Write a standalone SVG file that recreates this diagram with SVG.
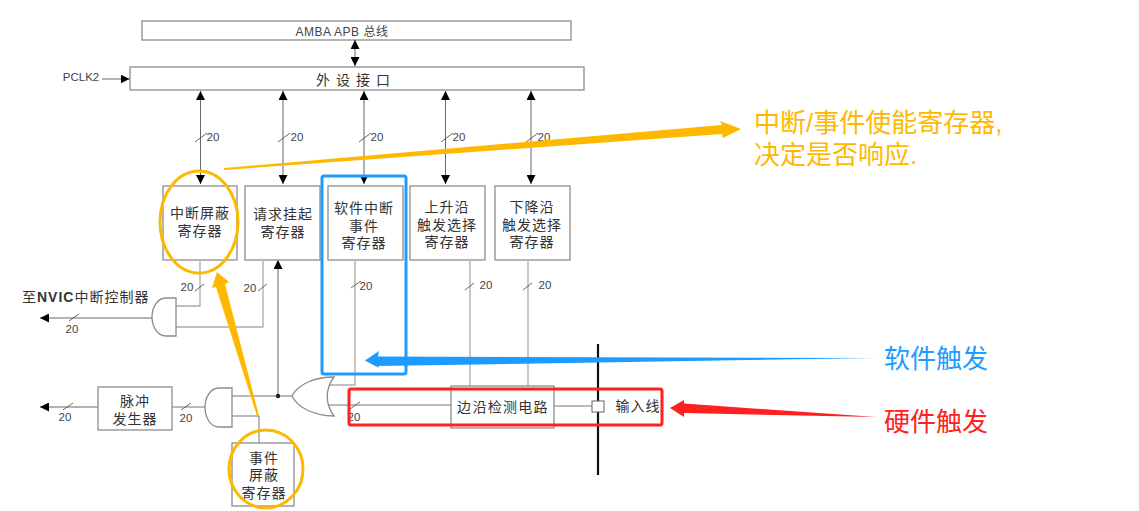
<svg xmlns="http://www.w3.org/2000/svg" width="1139" height="511" viewBox="0 0 1139 511">
<defs>
<marker id="ah" viewBox="0 0 9 9" refX="9" refY="4.5" markerWidth="9" markerHeight="9" orient="auto-start-reverse" markerUnits="userSpaceOnUse"><path d="M0 0L9 4.5L0 9Z" fill="#000"/></marker>
</defs>
<style>
.b{fill:#fff;stroke:#8c8c8c;stroke-width:1.3}
.w{fill:none;stroke:#aaa;stroke-width:1.3}
.d{fill:none;stroke:#777;stroke-width:1}
.a{fill:none;stroke:#666;stroke-width:1;marker-start:url(#ah);marker-end:url(#ah)}
.e{fill:none;stroke:#666;stroke-width:1;marker-end:url(#ah)}
.s{fill:none;stroke:#555;stroke-width:.9}
.t{font-family:"Liberation Sans","Noto Sans CJK SC",sans-serif;font-size:14px;letter-spacing:1px;fill:#333;text-anchor:middle}
.n{font-family:"Liberation Sans","Noto Sans CJK SC",sans-serif;font-size:11.5px;fill:#444;text-anchor:middle}
.o{fill:none;stroke:#ffb800;stroke-width:3}
.c{font-family:"Liberation Sans","Noto Sans CJK SC",sans-serif;font-size:26px}
</style>
<g id="bus"><rect class="b" x="142" y="21" width="429" height="19"/><text class="n" x="342" y="36" style="font-size:12px;letter-spacing:.5px">AMBA APB 总线</text></g>
<g id="periph"><rect class="b" x="130" y="67" width="454" height="23"/><text class="t" x="356" y="85" style="letter-spacing:6px">外设接口</text></g>
<g id="pclk"><text class="n" x="81" y="81">PCLK2</text></g>
<g id="connectors">
<path class="a" d="M355 40V66"/>
<path class="e" d="M102 79H129.5"/>
<path class="a" d="M200.500 91V184"/><path class="a" d="M283 91V184"/><path class="a" d="M364 91V184"/><path class="a" d="M445.500 91V184"/><path class="a" d="M531 91V184"/>
<path class="s" d="M195 142l12-9M278 142l12-9M359 142l12-9M441 142l12-9M526 142l12-9"/>
<path class="w" d="M200 261V306H176M263 261V327H176M355 261V385H328M470 261V386M528 261V386"/>
<path class="s" d="M195 291l9-7M258 291l9-7M351 288l10-7M465 290l9-7M523 290l9-7"/>
<path class="e" d="M152 318H40"/>
<path class="s" d="M69 321l10-7"/>
<path class="e" d="M98 407H40"/>
<path class="s" d="M63 410l10-7"/>
<path class="d" d="M172 407H205"/>
<path class="s" d="M181 410l10-7"/>
<path class="d" d="M232 396H296M232 416H259V443M326 405H451M554 406H592"/>
<path class="s" d="M350 409l10-7"/>
<path class="e" d="M278 396V260"/>
<circle cx="278" cy="396" r="2.200" fill="#222"/>
</g>
<g id="and1"><path class="b" d="M176 298H166C157 298 152 308 152 317C152 326 157 336 166 336H176Z"/></g>
<g id="and2"><path class="b" d="M232 388H219C210 388 205 398 205 407C205 417 210 427 219 427H232Z"/></g>
<g id="or1"><path class="b" d="M334 377C315 377 298 384 292 396C298 408 315 416 334 416C325 404 325 389 334 377Z"/></g>
<g id="n1"><rect class="b" x="163" y="186" width="74" height="74"/><text class="t" x="200" y="218">中断屏蔽<tspan x="200" dy="18">寄存器</tspan></text></g>
<g id="n2"><rect class="b" x="245" y="186" width="75" height="74"/><text class="t" x="283" y="219">请求挂起<tspan x="283" dy="18">寄存器</tspan></text></g>
<g id="n3"><rect class="b" x="328" y="186" width="75" height="74"/><text class="t" x="364" y="213">软件中断<tspan x="364" dy="18">事件</tspan><tspan x="364" dy="17">寄存器</tspan></text></g>
<g id="n4"><rect class="b" x="410" y="186" width="75" height="74"/><text class="t" x="447" y="212">上升沿<tspan x="447" dy="18">触发选择</tspan><tspan x="447" dy="17">寄存器</tspan></text></g>
<g id="n5"><rect class="b" x="495" y="186" width="75" height="74"/><text class="t" x="532" y="212">下降沿<tspan x="532" dy="18">触发选择</tspan><tspan x="532" dy="17">寄存器</tspan></text></g>
<g id="pulse"><rect class="b" x="98" y="387" width="74" height="43"/><text class="t" x="135" y="406">脉冲<tspan x="135" dy="18">发生器</tspan></text></g>
<g id="evmask"><rect class="b" x="232" y="443" width="62" height="63"/><text class="t" x="264" y="463">事件<tspan x="264" dy="17">屏蔽</tspan><tspan x="264" dy="18">寄存器</tspan></text></g>
<g id="edge"><rect class="b" x="451" y="386" width="103" height="42"/><text class="t" x="503" y="412" style="letter-spacing:1.300px">边沿检测电路</text></g>
<g id="input"><path d="M598 344V475" stroke="#111" stroke-width="2.200" fill="none"/><rect x="592" y="401" width="12" height="11" fill="#fff" stroke="#666"/><text class="t" x="638" y="411">输入线</text></g>
<g id="labels">
<text class="n" x="213" y="141">20</text><text class="n" x="297" y="141">20</text><text class="n" x="377" y="141">20</text><text class="n" x="459" y="141">20</text><text class="n" x="544" y="141">20</text>
<text class="n" x="187" y="291">20</text><text class="n" x="250" y="292">20</text><text class="n" x="366" y="290">20</text><text class="n" x="486" y="289">20</text><text class="n" x="545" y="289">20</text>
<text class="n" x="72" y="333">20</text><text class="n" x="65" y="421">20</text><text class="n" x="186" y="422">20</text><text class="n" x="354" y="421">20</text>
<text x="22" y="302" font-family="'Liberation Sans','Noto Sans CJK SC',sans-serif" font-size="14" letter-spacing="1" fill="#333">至<tspan font-weight="bold">NVIC</tspan>中断控制器</text>
</g>
<g id="annotations">
<ellipse class="o" cx="199" cy="222" rx="39" ry="51"/>
<ellipse class="o" cx="266" cy="469" rx="37" ry="39"/>
<rect x="322" y="176" width="84" height="198" rx="2" fill="none" stroke="#1e9bff" stroke-width="3"/>
<rect x="349" y="389" width="313" height="36" rx="2" fill="none" stroke="#ff2020" stroke-width="3"/>
<path d="M224 168L722 125L720 121L741 129L723 138L722 134L224 170Z" fill="#ffb800"/>
<path d="M259 416L225 284L229 282L217 272L212 288L216 287L257 416Z" fill="#ffb800"/>
<path d="M876 358L378 356.500L379 351L365 360.500L379 368L378 366Z" fill="#1e9bff"/>
<path d="M876 417L684 403.500L684 400L670 408L684 417L684 413Z" fill="#ff2020"/>
<text class="c" x="754" y="132" fill="#ffb800">中断/事件使能寄存器,</text>
<text class="c" x="754" y="164" fill="#ffb800">决定是否响应.</text>
<text class="c" x="884" y="368" fill="#1e9bff">软件触发</text>
<text class="c" x="884" y="431" fill="#ff2020">硬件触发</text>
</g>
</svg>
